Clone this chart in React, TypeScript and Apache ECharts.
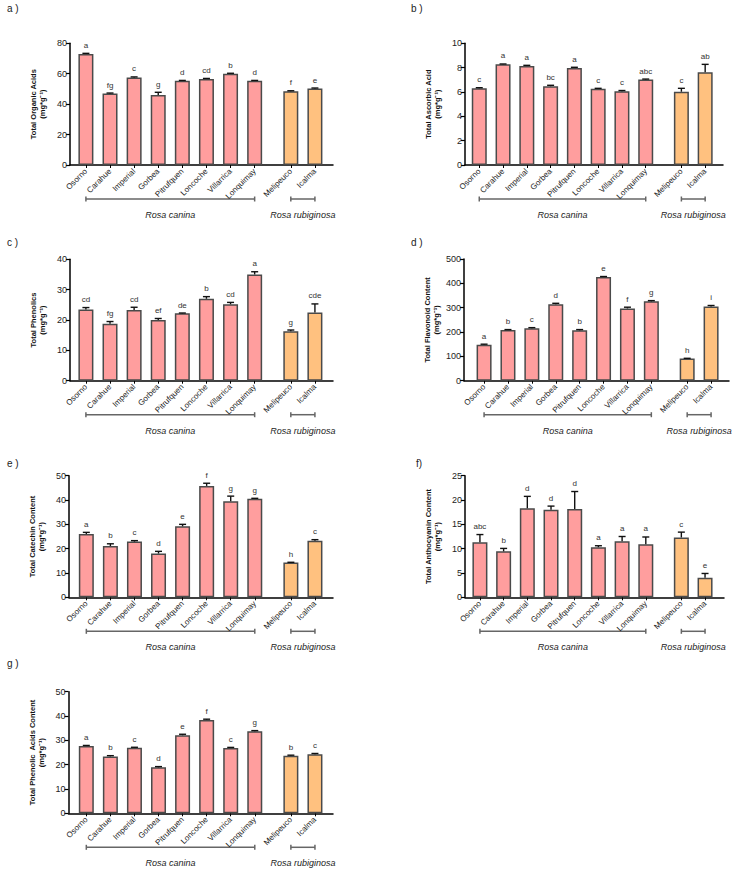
import React, { useEffect, useRef } from "react";
import * as echarts from "echarts";

// ---------- data ----------
const SITES = ["Osorno", "Carahue", "Imperial", "Gorbea", "Pitrufquen", "Loncoche", "Villarrica", "Lonquimay", "Melipeuco", "Icalma"];
const SPECIES = [
  { name: "Rosa canina", from: 0, to: 7 },
  { name: "Rosa rubiginosa", from: 8, to: 9 },
];

const organicAcids = [73, 47, 57.5, 46, 55.3, 56.6, 60, 55.3, 48.5, 50.3];
const organicAcidsErr = [0.4, 0.3, 0.4, 1.8, 0.3, 0.3, 0.3, 0.3, 0.3, 0.3];
const organicAcidsLetters = ["a", "fg", "c", "g", "d", "cd", "b", "d", "f", "e"];

const ascorbicAcid = [6.3, 8.27, 8.13, 6.47, 7.97, 6.27, 6.05, 7.03, 6.02, 7.62];
const ascorbicAcidErr = [0.05, 0.03, 0.06, 0.08, 0.06, 0.03, 0.07, 0.03, 0.28, 0.65];
const ascorbicAcidLetters = ["c", "a", "a", "bc", "a", "c", "c", "abc", "c", "ab"];

const phenolics = [23.5, 18.8, 23.3, 20.0, 22.2, 27.0, 25.2, 35.0, 16.3, 22.5];
const phenolicsErr = [0.6, 0.7, 0.9, 0.5, 0.1, 0.7, 0.6, 0.9, 0.4, 2.8];
const phenolicsLetters = ["cd", "fg", "cd", "ef", "de", "b", "cd", "a", "g", "cde"];

const flavonoids = [148, 208, 215, 314, 207, 426, 297, 326, 91, 305];
const flavonoidsErr = [2, 2, 3, 4, 3, 2, 5, 3, 1, 4];
const flavonoidsLetters = ["a", "b", "c", "d", "b", "e", "f", "g", "h", "i"];

const catechin = [26, 21.1, 22.9, 18.0, 29.2, 45.8, 39.5, 40.5, 14.3, 23.3];
const catechinErr = [0.7, 0.9, 0.4, 0.9, 0.8, 1.1, 2.1, 0.2, 0.1, 0.4];
const catechinLetters = ["a", "b", "c", "d", "e", "f", "g", "g", "h", "c"];

const anthocyanin = [11.3, 9.45, 18.3, 18.0, 18.15, 10.3, 11.5, 10.9, 12.3, 4.0];
const anthocyaninErr = [1.6, 0.6, 2.45, 0.75, 3.6, 0.3, 1.0, 1.5, 1.1, 0.9];
const anthocyaninLetters = ["abc", "b", "d", "d", "d", "a", "a", "a", "c", "e"];

const phenolicAcids = [27.7, 23.4, 27.0, 18.9, 32.1, 38.4, 26.8, 33.7, 23.7, 24.3];
const phenolicAcidsErr = [0.2, 0.3, 0.15, 0.3, 0.4, 0.3, 0.3, 0.3, 0.2, 0.3];
const phenolicAcidsLetters = ["a", "b", "c", "d", "e", "f", "c", "g", "b", "c"];

// ---------- layout ----------
const SLOT = [0, 1, 2, 3, 4, 5, 6, 7, 8.5, 9.5];
const FONT = "Liberation Sans, Arial, Helvetica, sans-serif";
const PINK = "#ff9e9e";
const ORANGE = "#ffc17f";

const PANELS = [
  { tag: "a )", tx: 7, ty: 9, left: 70, top: 43.3, width: 263, height: 121.7, xMin: -0.66, xMax: 10.25, yMax: 80, yInt: 20, title: "Total Organic Acids", values: organicAcids, err: organicAcidsErr, letters: organicAcidsLetters },
  { tag: "b )", tx: 411, ty: 9, left: 465, top: 43.3, width: 258, height: 121.7, xMin: -0.6, xMax: 10.25, yMax: 10, yInt: 2, title: "Total Ascorbic Acid", values: ascorbicAcid, err: ascorbicAcidErr, letters: ascorbicAcidLetters },
  { tag: "c )", tx: 7, ty: 243, left: 70, top: 259.3, width: 263, height: 121.4, xMin: -0.66, xMax: 10.25, yMax: 40, yInt: 10, title: "Total Phenolics", values: phenolics, err: phenolicsErr, letters: phenolicsLetters },
  { tag: "d )", tx: 411, ty: 243, left: 464, top: 259, width: 265, height: 121.7, xMin: -0.84, xMax: 10.25, yMax: 500, yInt: 100, title: "Total Flavonoid Content", values: flavonoids, err: flavonoidsErr, letters: flavonoidsLetters },
  { tag: "e )", tx: 7, ty: 464, left: 69, top: 475.7, width: 264, height: 121.6, xMin: -0.72, xMax: 10.25, yMax: 50, yInt: 10, title: "Total Catechin Content", values: catechin, err: catechinErr, letters: catechinLetters },
  { tag: "f)", tx: 416, ty: 464, left: 465, top: 475.7, width: 259, height: 121.6, xMin: -0.63, xMax: 10.3, yMax: 25, yInt: 5, title: "Total Anthocyanin Content", values: anthocyanin, err: anthocyaninErr, letters: anthocyaninLetters },
  { tag: "g )", tx: 7, ty: 664, left: 68.5, top: 691.7, width: 264.5, height: 121.6, xMin: -0.74, xMax: 10.25, yMax: 50, yInt: 10, title: "Total Phenolic  Acids Content", values: phenolicAcids, err: phenolicAcidsErr, letters: phenolicAcidsLetters },
];

function buildOption() {
  const grid: any[] = [];
  const xAxis: any[] = [];
  const yAxis: any[] = [];
  const series: any[] = [];
  PANELS.forEach((p, i) => {
    grid.push({ left: p.left, top: p.top, width: p.width, height: p.height, containLabel: false, outerBoundsMode: "none" });
    xAxis.push({
      type: "value", gridIndex: i, min: p.xMin, max: p.xMax,
      axisLine: { show: true, onZero: false, lineStyle: { color: "#000", width: 1.5 } },
      axisTick: { show: true, customValues: SLOT, length: 3, lineStyle: { color: "#000", width: 1 } },
      axisLabel: {
        show: true, customValues: SLOT, rotate: 45, margin: 5, fontSize: 8, color: "#222", fontFamily: FONT,
        formatter: (v: number) => { const k = SLOT.indexOf(v); return k >= 0 ? SITES[k] : ""; },
      },
      splitLine: { show: false },
    });
    yAxis.push({
      type: "value", gridIndex: i, min: 0, max: p.yMax, interval: p.yInt,
      axisLine: { show: true, onZero: false, lineStyle: { color: "#000", width: 1.5 } },
      axisTick: { show: true, length: 4, lineStyle: { color: "#000", width: 1.2 } },
      axisLabel: { fontSize: 9, color: "#222", margin: 3, fontFamily: FONT },
      splitLine: { show: false },
      name: p.title + "\n(mg*g⁻¹)",
      nameLocation: "middle", nameRotate: 90, nameGap: 23,
      nameTextStyle: { fontSize: 7.5, fontWeight: "bold", color: "#111", lineHeight: 9, fontFamily: FONT },
    });
    series.push({
      type: "bar", xAxisIndex: i, yAxisIndex: i, barWidth: 15,
      data: p.values.map((v, k) => ({ value: [SLOT[k], v], itemStyle: { color: k < 8 ? PINK : ORANGE } })),
      itemStyle: { borderColor: "#4a4a4a", borderWidth: 1.5 },
      z: 2,
    });
    series.push({
      type: "custom", xAxisIndex: i, yAxisIndex: i, z: 3, silent: true, encode: { x: 0, y: 1 },
      data: p.values.map((v, k) => [SLOT[k], v, p.err[k]]),
      renderItem: (params: any, api: any) => {
        const x = api.value(0), y = api.value(1), e = api.value(2);
        const a = api.coord([x, y]);
        const b = api.coord([x, y + e]);
        const st = { stroke: "#111", lineWidth: 1.4 };
        return {
          type: "group",
          children: [
            { type: "line", shape: { x1: a[0], y1: a[1], x2: b[0], y2: b[1] }, style: st },
            { type: "line", shape: { x1: b[0] - 3.5, y1: b[1], x2: b[0] + 3.5, y2: b[1] }, style: st },
            {
              type: "text", x: b[0], y: b[1] - 4,
              style: { text: p.letters[params.dataIndex], fontSize: 8, fill: "#333", fontFamily: FONT, textAlign: "center", textVerticalAlign: "bottom" },
            },
          ],
        };
      },
    });
  });
  return { animation: false, backgroundColor: "#fff", grid, xAxis, yAxis, series };
}

export default function App() {
  const ref = useRef<HTMLDivElement>(null);
  useEffect(() => {
    if (!ref.current) return;
    const chart = echarts.init(ref.current, undefined, { renderer: "svg" });
    chart.setOption(buildOption());
    const graphic: any[] = [];
    PANELS.forEach((p, i) => {
      graphic.push({
        type: "text", left: p.tx, top: p.ty - 6,
        style: { text: p.tag, fontSize: 10, fill: "#222", fontFamily: FONT },
      });
      const baseY = p.top + p.height;
      const by = baseY + 34;
      const ty = baseY + 50;
      SPECIES.forEach((s) => {
        const x1 = chart.convertToPixel({ xAxisIndex: i } as any, SLOT[s.from]) as any as number;
        const x2 = chart.convertToPixel({ xAxisIndex: i } as any, SLOT[s.to]) as any as number;
        const st = { stroke: "#666", lineWidth: 1.5 };
        graphic.push({ type: "line", shape: { x1, y1: by, x2, y2: by }, style: st });
        graphic.push({ type: "line", shape: { x1, y1: by - 2.5, x2: x1, y2: by + 2.5 }, style: st });
        graphic.push({ type: "line", shape: { x1: x2, y1: by - 2.5, x2, y2: by + 2.5 }, style: st });
        graphic.push({
          type: "text", x: (x1 + x2) / 2, y: ty,
          style: { text: s.name, fontSize: 9, fontStyle: "italic", fill: "#222", fontFamily: FONT, textAlign: "center", textVerticalAlign: "middle" },
        });
      });
    });
    chart.setOption({ graphic });
    return () => chart.dispose();
  }, []);
  return <div ref={ref} style={{ position: "fixed", left: 0, top: 0, width: 737, height: 877, background: "#fff" }} />;
}
